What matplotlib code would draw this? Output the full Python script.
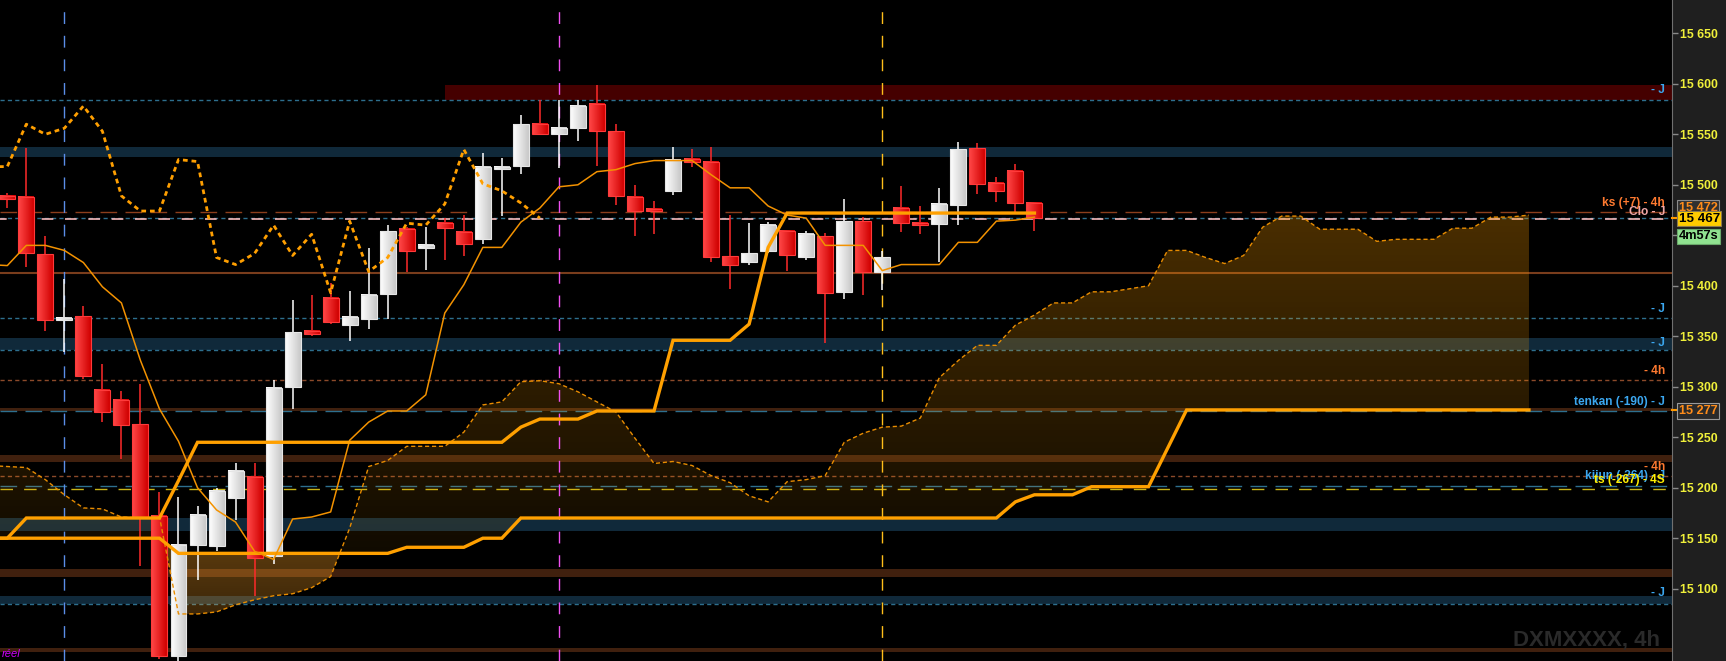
import numpy as np
import matplotlib
matplotlib.use('Agg')
import matplotlib.pyplot as plt
from matplotlib.colors import LinearSegmentedColormap
from matplotlib.patches import Rectangle
from matplotlib.path import Path
from matplotlib.transforms import blended_transform_factory
from matplotlib.ticker import FuncFormatter

plt.rcParams['font.family'] = ['Liberation Sans', 'DejaVu Sans']

# 4h candles (index 0 = first visible bar)
opens = [15489, 15488, 15431, 15366, 15370, 15297, 15287, 15263, 15172, 15033,
         15143, 15142, 15190, 15211, 15132, 15300, 15355, 15388, 15361, 15367,
         15392, 15456, 15437, 15462, 15453, 15446, 15516, 15519, 15560, 15550,
         15556, 15580, 15553, 15488, 15476, 15494, 15526, 15523, 15429, 15424,
         15434, 15454, 15428, 15449, 15394, 15464, 15414, 15477, 15462, 15461,
         15480, 15536, 15502, 15514, 15482]
highs = [15492, 15536, 15449, 15407, 15380, 15323, 15296, 15303, 15196, 15191,
         15182, 15200, 15224, 15224, 15307, 15386, 15391, 15403, 15395, 15437,
         15460, 15458, 15458, 15467, 15470, 15531, 15527, 15569, 15584, 15584,
         15584, 15599, 15560, 15500, 15484, 15537, 15535, 15537, 15470, 15462,
         15463, 15455, 15454, 15452, 15486, 15468, 15434, 15499, 15479, 15497,
         15542, 15541, 15508, 15521, 15483]
lows = [15477, 15419, 15355, 15334, 15308, 15265, 15228, 15122, 15030, 15028,
        15109, 15137, 15168, 15093, 15124, 15278, 15350, 15362, 15345, 15357,
        15367, 15414, 15416, 15426, 15429, 15441, 15469, 15511, 15549, 15517,
        15543, 15519, 15480, 15449, 15451, 15490, 15518, 15424, 15397, 15421,
        15432, 15415, 15426, 15343, 15387, 15391, 15396, 15453, 15451, 15424,
        15460, 15491, 15483, 15472, 15454]
closes = [15486, 15432, 15366, 15368, 15311, 15275, 15262, 15171, 15033, 15143,
          15173, 15197, 15217, 15130, 15299, 15354, 15352, 15364, 15369, 15391,
          15454, 15434, 15440, 15457, 15441, 15518, 15518, 15560, 15550, 15556,
          15578, 15553, 15489, 15474, 15474, 15525, 15523, 15428, 15421, 15432,
          15460, 15430, 15451, 15393, 15464, 15414, 15428, 15462, 15460, 15481,
          15535, 15501, 15494, 15482, 15467]

# ichimoku lines, index -1 .. 54
tenkan = [15421, 15420, 15440, 15440, 15435, 15423, 15399, 15383, 15326, 15278,
          15246, 15200, 15178, 15166, 15137, 15129, 15169, 15171, 15176, 15247,
          15265, 15276, 15276, 15292, 15373, 15401, 15438, 15438, 15463, 15477,
          15498, 15500, 15513, 15515, 15521, 15524, 15524, 15524, 15510, 15497,
          15497, 15479, 15470, 15467, 15440, 15440, 15440, 15415, 15421, 15421,
          15421, 15443, 15443, 15464, 15465, 15468]
kijun = [15150, 15150, 15170, 15170, 15170, 15170, 15170, 15170, 15170, 15170,
         15207, 15245, 15245, 15245, 15245, 15245, 15245, 15245, 15245, 15245,
         15245, 15245, 15245, 15245, 15245, 15245, 15245, 15245, 15260, 15268,
         15268, 15268, 15276, 15276, 15276, 15276, 15346, 15346, 15346, 15346,
         15362, 15438, 15472, 15472, 15472, 15472, 15472, 15472, 15472, 15472,
         15472, 15472, 15472, 15472, 15472, 15472]
# cloud, index -1 .. 80
span_a = [15222, 15221, 15220, 15208, 15193, 15180, 15179, 15171, 15170, 15171,
          15075, 15075, 15077, 15084, 15089, 15093, 15095, 15101, 15112, 15160,
          15221, 15227, 15241, 15241, 15241, 15255, 15282, 15285, 15305, 15306,
          15303, 15295, 15285, 15275, 15249, 15224, 15226, 15222, 15212, 15205,
          15192, 15186, 15206, 15208, 15212, 15245, 15254, 15260, 15261, 15269,
          15309, 15326, 15341, 15341, 15361, 15371, 15383, 15383, 15394, 15394,
          15397, 15400, 15435, 15435, 15428, 15422, 15430, 15458, 15469, 15469,
          15456, 15456, 15456, 15444, 15446, 15446, 15446, 15457, 15457, 15468,
          15468, 15470]
span_b = ([15150] * 10 + [15135] * 12 + [15141] * 4 + [15150] * 2 + [15170] * 26
          + [15186] + [15193] * 3 + [15201] * 4 + [15239] + [15277] * 19)

# horizontal zones (price low, price high)
zones_red = [(15584, 15599)]
zones_blue = [(15528, 15537), (15336, 15348), (15157, 15170), (15085, 15093)]
zones_brown = [(15276, 15278.5), (15225, 15232), (15112, 15119.5), (15037, 15041)]
level_solid = 15413
levels_blue_short = [15584, 15467, 15368, 15336, 15085]
levels_blue_long = [15276, 15202]
levels_brown_short = [15307, 15212]
level_ks = 15473
level_ts = 15199
level_close = 15467
vlines_idx = [3, 29, 46]

right_labels = [
    (15594, '- J', '#3ba7f0'),
    (15482, 'ks (+7) - 4h', '#ff7a30'),
    (15473, 'Clo - J', '#f0a8a8'),
    (15377, '- J', '#3ba7f0'),
    (15343, '- J', '#3ba7f0'),
    (15316, '- 4h', '#ff7a30'),
    (15285, 'tenkan (-190) - J', '#3ba7f0'),
    (15221, '- 4h', '#ff7a30'),
    (15212, 'kijun (-264) - J', '#3ba7f0'),
    (15208, 'ts (-267) - 4S', '#ffee00'),
    (15096, '- J', '#3ba7f0'),
]

W, H = 1726, 661
PLOT_W = 1672
fig = plt.figure(figsize=(W / 100, H / 100), dpi=100, facecolor='#1f1f1f')
ax = fig.add_axes([0, 0, PLOT_W / W, 1])
ax.set_facecolor('black')
XMIN, XMAX = -0.384, 87.52
YMIN, YMAX = 15028.4, 15683.0
blend = blended_transform_factory(ax.transAxes, ax.transData)

# zones
for lo, hi in zones_red:
    ax.fill_between([23, XMAX], lo, hi, color='#450000', lw=0, zorder=1)
for lo, hi in zones_blue:
    ax.axhspan(lo, hi, color='#10293a', lw=0, zorder=1)
for lo, hi in zones_brown:
    ax.axhspan(lo, hi, color='#40200e', lw=0, zorder=1)
ax.axhline(level_solid, color='#7a3d1c', lw=1.5, zorder=1.5)

for p in levels_blue_short:
    ax.axhline(p, color='#2d6f8e', lw=1, ls=(0, (3, 2.3)), zorder=1.6)
for p in levels_blue_long:
    ax.axhline(p, color='#2d6f8e', lw=1, ls=(0, (12, 6)), zorder=1.6)
for p in levels_brown_short:
    ax.axhline(p, color='#8c4a2a', lw=1, ls=(0, (3, 2.3)), zorder=1.6)
ax.axhline(level_ks, color='#8c3e1c', lw=1, ls=(0, (12, 6)), zorder=1.6)
ax.axhline(level_ts, color='#c8b418', lw=1, ls=(0, (9, 8)), zorder=1.6)
ax.axhline(level_close - 0.8, color='#f4b8b8', lw=1.2, ls=(3, (7, 7)), zorder=1.7)

# cloud with vertical alpha gradient
xc = np.arange(-1, len(span_a) - 1)
sa = np.array(span_a, float)
sb = np.array(span_b, float)
bull = ax.fill_between(xc, sa, sb, where=sa >= sb, interpolate=True,
                       facecolor='none', edgecolor='none')
bear = ax.fill_between(xc, sa, sb, where=sa < sb, interpolate=True,
                       facecolor='none', edgecolor='none')


def cloud_fill(coll, p_bot, p_top, a_bot, a_top, rgb):
    paths = coll.get_paths()
    if not paths:
        return
    clip = Path.make_compound_path(*paths)
    ys = np.linspace(YMIN, YMAX, 400)
    img = np.zeros((400, 1, 4))
    img[..., :3] = rgb
    img[:, 0, 3] = np.interp(ys, [p_bot, p_top], [a_bot, a_top])
    im = ax.imshow(img, extent=(-1, 81, YMIN, YMAX), origin='lower',
                   aspect='auto', interpolation='bilinear', zorder=2)
    im.set_clip_path(clip, transform=ax.transData)


cloud_fill(bull, 15140, 15480, 0.07, 0.30, (1.0, 0.62, 0.0))
cloud_fill(bear, 15075, 15140, 0.24, 0.36, (1.0, 0.64, 0.15))

# vertical markers
vcols = ['#5b8ee8', '#f050f0', '#ffbe1a']
for xi, c in zip(vlines_idx, vcols):
    ax.axvline(xi, color=c, lw=1.0, ls=(0, (8.5, 8.5)), zorder=3)

# candles
red_cmap = LinearSegmentedColormap.from_list('red', ['#ff4848', '#d00000'])
white_cmap = LinearSegmentedColormap.from_list('wht', ['#ffffff', '#c8c8c8'])
grad = np.linspace(0, 1, 32).reshape(1, -1)
bw = 0.84
for i in range(len(closes)):
    up = closes[i] >= opens[i]
    wick_c = '#ffffff' if up else '#ff2a2a'
    ax.vlines(i, lows[i], highs[i], color=wick_c, lw=1.1, zorder=4)
    lo, hi = min(opens[i], closes[i]), max(opens[i], closes[i])
    ax.imshow(grad, cmap=white_cmap if up else red_cmap,
              extent=(i - bw / 2, i + bw / 2, lo, hi), aspect='auto',
              interpolation='bilinear', zorder=4.5)
    ax.add_patch(Rectangle((i - bw / 2, lo), bw, hi - lo, fill=False,
                           ec='#e6e6e6' if up else '#ff3a3a', lw=0.8, zorder=4.6))

# ichimoku lines
xl = np.arange(-1, len(kijun) - 1)
ax.plot(xc, span_a, color='#e88c00', lw=1.0, ls=(0, (3, 2)), zorder=5)
ax.plot(xc, span_b, color='#ffa000', lw=2.4, zorder=6, solid_joinstyle='miter')
ax.plot(xl, tenkan, color='#f39200', lw=1.1, zorder=6)
ax.plot(xl, kijun, color='#ffa000', lw=2.4, zorder=6, solid_joinstyle='miter')
chikou = closes[25:]
ax.plot(np.arange(-1, len(chikou) - 1), chikou, color='#ff9f00', lw=2.0,
        ls=(0, (1.7, 1.4)), zorder=6)

# right-side labels
for p, s, c in right_labels:
    ax.text(1665 / PLOT_W, p, s, transform=blend, ha='right', va='center',
            fontsize=8.6, fontweight='bold', color=c, zorder=8)

ax.text(1660 / PLOT_W, 15043.5, 'DXMXXXX, 4h', transform=blend, ha='right',
        va='baseline', fontsize=16, fontweight='bold', color='#2a2a2a', zorder=1.2)
ax.text(2 / PLOT_W, 15030, 'réel', transform=blend, ha='left', va='bottom',
        fontsize=8, style='italic', color='#d000ff', zorder=8)

# price axis
ax.set_xlim(XMIN, XMAX)
ax.set_ylim(YMIN, YMAX)
ax.xaxis.set_visible(False)
for s in ['left', 'top', 'bottom']:
    ax.spines[s].set_visible(False)
ax.spines['right'].set_color('#707070')
ax.yaxis.tick_right()
ax.set_yticks(np.arange(15100, 15651, 50))
ax.yaxis.set_major_formatter(FuncFormatter(lambda v, pos: f"{int(v):,}".replace(',', ' ')))
ax.tick_params(axis='y', length=4, width=1, color='#8a8a8a', labelcolor='#f0f03a',
               labelsize=8.8, pad=2)
for t in ax.get_yticklabels():
    t.set_fontweight('bold')

bx = 1678.5 / PLOT_W
ax.text(bx, 15477, '15 472', transform=blend, ha='left', va='center', fontsize=9.2,
        fontweight='bold', color='#ff8c1a', clip_on=False, zorder=10,
        bbox=dict(boxstyle='square,pad=0.15', fc='#303030', ec='#8c8c8c', lw=0.8))
ax.text(bx, 15466.5, '15 467', transform=blend, ha='left', va='center', fontsize=9.6,
        fontweight='bold', color='black', clip_on=False, zorder=11,
        bbox=dict(boxstyle='square,pad=0.12', fc='#ffcc00', ec='#8a7a50', lw=0.8))
ax.text(bx, 15449, '4m57s', transform=blend, ha='left', va='center', fontsize=9.2,
        fontweight='bold', color='black', clip_on=False, zorder=11,
        bbox=dict(boxstyle='square,pad=0.12', fc='#90e290', ec='#6aa86a', lw=0.8))
ax.text(bx, 15275.6, '15 277', transform=blend, ha='left', va='center', fontsize=9.2,
        fontweight='bold', color='#ff8c1a', clip_on=False, zorder=10,
        bbox=dict(boxstyle='square,pad=0.15', fc='#2a2a2a', ec='#9a9a9a', lw=0.8))
for p in [15467, 15277]:
    ax.plot([1.0, 1.0 + 5 / PLOT_W], [p, p], transform=blend, color='#ff9900',
            lw=1.5, clip_on=False, zorder=9)

fig.savefig('out.png', dpi=100, facecolor=fig.get_facecolor())
